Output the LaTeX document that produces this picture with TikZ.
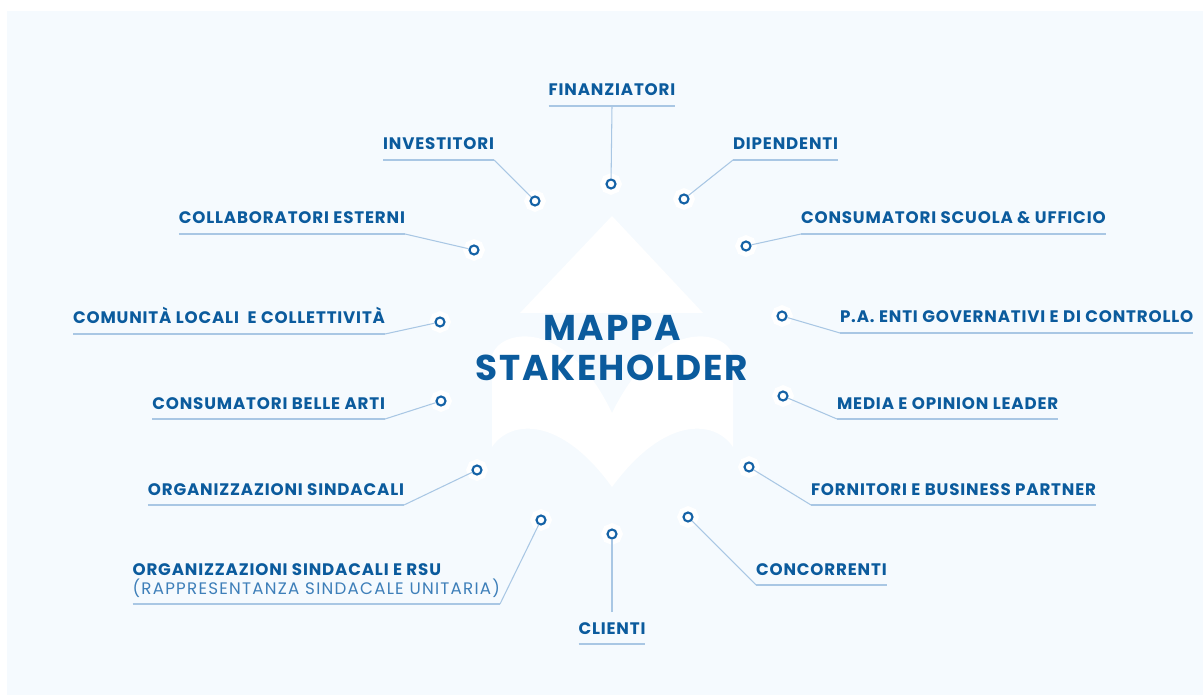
\documentclass[tikz,border=0pt]{standalone}
\usepackage{fontspec}
\setmainfont{Poppins}[LetterSpace=5]
\newfontfamily\thinfont{Poppins}[LetterSpace=7.5]
\usetikzlibrary{positioning}
\definecolor{panel}{HTML}{F5FAFE}
\definecolor{navy2}{HTML}{0B5B9D}
\definecolor{navy3}{HTML}{3E7FB9}
\definecolor{sky2}{HTML}{A9C7E4}
\definecolor{ring2}{HTML}{1462A6}

\begin{document}
\begin{tikzpicture}[
      x=0.02cm, y=-0.02cm,
      lbl/.style={font=\fontsize{9.5}{10.8}\selectfont\bfseries, text=navy2,
        inner xsep=0pt, inner ysep=0.2cm, text depth=0pt, outer sep=0pt},
      title/.style={font=\fontsize{20.4}{22.8}\selectfont\bfseries, text=navy2, align=center},
      dot/.style={circle, draw=ring2, line width=1.2pt, fill=white, minimum size=0.18cm,
        inner sep=0pt, preaction={draw=white, line width=0.24cm}},
      link/.style={draw=sky2, line width=0.6pt},
      uline/.style={draw=sky2, line width=0.9pt}
  ]
    \useasboundingbox (0,0) rectangle (1203,695);
    \fill[white] (0,0) rectangle (1203,695);
    \fill[panel] (7,11) rectangle (1203,695);
    % arrow and open book behind the title
    \fill[white] (520,313) -- (612,216) -- (703,313) -- cycle;
    \fill[white] (492,447) -- (492,355) .. controls (500,330) and (565,315) .. (612,413)
      .. controls (660,315) and (725,330) .. (733,355) -- (733,447)
      .. controls (715,420) and (665,415) .. (612,487)
      .. controls (560,415) and (510,420) .. (492,447) -- cycle;
    \node[title] (map) at (612,348) {MAPPA\\STAKEHOLDER};

    \node[lbl, anchor=south] (fin) at (612,106) {FINANZIATORI};
    \node[lbl, anchor=south east] (inv) at (494,160) {INVESTITORI};
    \node[lbl, anchor=south west] (dip) at (733,160) {DIPENDENTI};
    \node[lbl, anchor=south east] (col) at (405,234) {COLLABORATORI ESTERNI};
    \node[lbl, anchor=south west] (cons) at (801,234) {CONSUMATORI SCUOLA \& UFFICIO};
    \node[lbl, anchor=south east] (com) at (385,334) {COMUNITÀ LOCALI~ E COLLETTIVITÀ};
    \node[lbl, anchor=south west] (pa) at (840,333) {P.A. ENTI GOVERNATIVI E DI CONTROLLO};
    \node[lbl, anchor=south east] (bel) at (385,419) {CONSUMATORI BELLE ARTI};
    \node[lbl, anchor=south west] (med) at (837,419) {MEDIA E OPINION LEADER};
    \node[lbl, anchor=south east] (org) at (404,505) {ORGANIZZAZIONI SINDACALI};
    \node[lbl, anchor=south west] (forn) at (811,505) {FORNITORI E BUSINESS PARTNER};
    \node[lbl, anchor=south east, align=left] (rsu) at (500,604)
      {ORGANIZZAZIONI SINDACALI E RSU\\{\thinfont\mdseries\color{navy3}(RAPPRESENTANZA SINDACALE UNITARIA)}};
    \node[lbl, anchor=south west] (conc) at (756,585) {CONCORRENTI};
    \node[lbl, anchor=south] (cli) at (612,644) {CLIENTI};

    % dots
    \node[dot] (d-fin) at (611,184) {};
    \node[dot] (d-inv) at (535,201) {};
    \node[dot] (d-dip) at (684,199) {};
    \node[dot] (d-col) at (474,250) {};
    \node[dot] (d-cons) at (746,246) {};
    \node[dot] (d-com) at (440,322) {};
    \node[dot] (d-pa) at (782,316) {};
    \node[dot] (d-bel) at (441,401) {};
    \node[dot] (d-med) at (783,396) {};
    \node[dot] (d-org) at (477,470) {};
    \node[dot] (d-forn) at (749,467) {};
    \node[dot] (d-rsu) at (541,520) {};
    \node[dot] (d-cli) at (612,534) {};
    \node[dot] (d-conc) at (688,517) {};

    \foreach \n in {fin,inv,dip,col,cons,com,pa,bel,med,org,forn,rsu,conc,cli}
      \draw[uline] (\n.south west) -- (\n.south east);

    \draw[link] (fin.south) -- (d-fin);
    \draw[link] (inv.south east) -- (d-inv);
    \draw[link] (dip.south west) -- (d-dip);
    \draw[link] (col.south east) -- (d-col);
    \draw[link] (cons.south west) -- (d-cons);
    \draw[link] (com.south east) -- (d-com);
    \draw[link] (pa.south west) -- (d-pa);
    \draw[link] (bel.south east) -- (d-bel);
    \draw[link] (med.south west) -- (d-med);
    \draw[link] (org.south east) -- (d-org);
    \draw[link] (forn.south west) -- (d-forn);
    \draw[link] (rsu.south east) -- (d-rsu);
    \draw[link] (conc.south west) -- (d-conc);
    \draw[link] (cli.north) -- (d-cli);
  \end{tikzpicture}
\end{document}
